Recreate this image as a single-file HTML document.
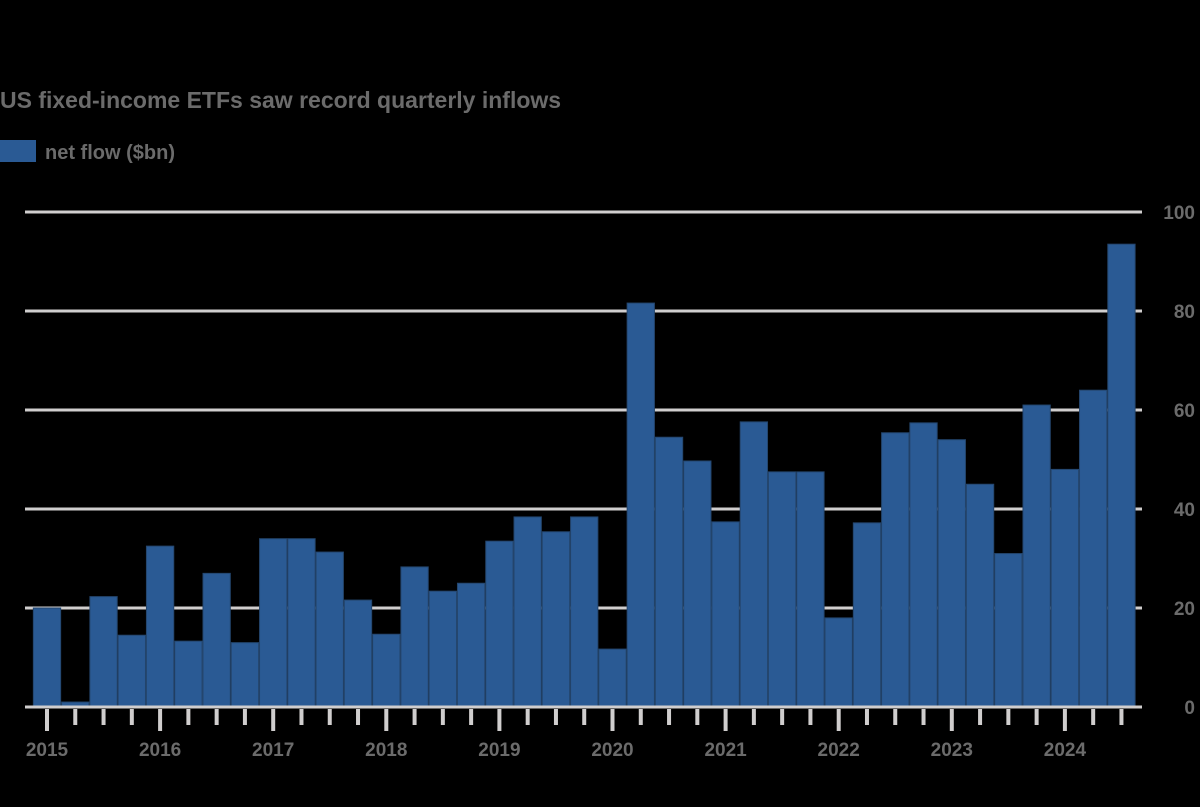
<!DOCTYPE html>
<html><head><meta charset="utf-8"><style>
html,body{margin:0;padding:0;background:#000;}
body{width:1200px;height:802px;overflow:hidden;font-family:"Liberation Sans",sans-serif;}
</style></head><body>
<svg width="1200" height="802" xmlns="http://www.w3.org/2000/svg">
<rect width="1200" height="802" fill="#000"/>
<text x="0" y="108" font-size="23" font-weight="bold" fill="#6b6b6b">US fixed-income ETFs saw record quarterly inflows</text>
<rect x="0" y="140" width="36" height="22" fill="#2a5a94"/>
<text x="45" y="159" font-size="20" font-weight="bold" fill="#6b6b6b">net flow ($bn)</text>
<g stroke="#d0cece" stroke-width="3">
<line x1="25" y1="212" x2="1142" y2="212"/>
<line x1="25" y1="311" x2="1142" y2="311"/>
<line x1="25" y1="410" x2="1142" y2="410"/>
<line x1="25" y1="509" x2="1142" y2="509"/>
<line x1="25" y1="608" x2="1142" y2="608"/>
</g>
<g font-size="19" font-weight="bold" fill="#6b6b6b" text-anchor="end">
<text x="1195" y="219">100</text><text x="1195" y="318">80</text><text x="1195" y="417">60</text><text x="1195" y="516">40</text><text x="1195" y="615">20</text><text x="1195" y="714">0</text>
</g>
<g id="bars" fill="#2a5a94" stroke="#24466e" stroke-width="1"></g>
<line x1="25" y1="707" x2="1142" y2="707" stroke="#d0cece" stroke-width="3"/>
<g id="ticks" stroke="#d0cece" stroke-width="4"></g>
<g id="yl" font-size="19" font-weight="bold" fill="#6b6b6b" text-anchor="middle"></g>
</svg>
<script>
var v=[20,1,22.3,14.5,32.5,13.3,27,13,34,34,31.3,21.6,14.7,28.3,23.4,25,33.5,38.4,35.4,38.4,11.7,81.6,54.5,49.7,37.4,57.6,47.5,47.5,18,37.2,55.4,57.4,54,45,31,61,48,64,93.5];
var ns="http://www.w3.org/2000/svg",b=document.getElementById("bars"),t=document.getElementById("ticks"),yl=document.getElementById("yl");
var sp=113.1/4;
for(var i=0;i<v.length;i++){var cx=47+i*sp,h=v[i]*4.95;var r=document.createElementNS(ns,"rect");r.setAttribute("x",cx-13.65);r.setAttribute("width",27.3);r.setAttribute("y",707-h);r.setAttribute("height",h);b.appendChild(r);}
for(var i=0;i<39;i++){var cx=47+i*sp;var l=document.createElementNS(ns,"line");l.setAttribute("x1",cx);l.setAttribute("x2",cx);l.setAttribute("y1",709);l.setAttribute("y2",i%4==0?731:725);t.appendChild(l);
if(i%4==0){var tx=document.createElementNS(ns,"text");tx.setAttribute("x",cx);tx.setAttribute("y",756);tx.textContent=2015+i/4;yl.appendChild(tx);}}
</script>
</body></html>
